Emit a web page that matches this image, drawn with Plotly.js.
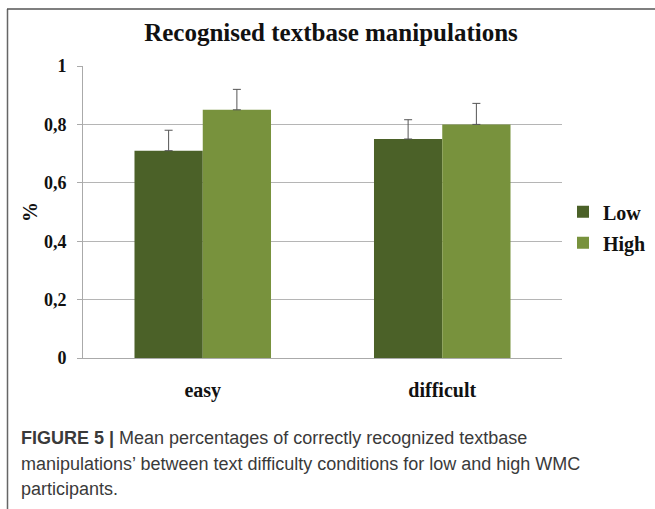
<!DOCTYPE html>
<html>
<head>
<meta charset="utf-8">
<script src="https://cdn.plot.ly/plotly-3.0.1.min.js"></script>
<style>
html,body{margin:0;padding:0;background:#fff;}
#chart{width:655px;height:509px;}
</style>
</head>
<body>
<div id="chart"></div>
<script>
var categories = ['easy', 'difficult'];
var categoryLabels = ['<b>easy</b>', '<b>difficult</b>'];
var lowValues = [0.71, 0.75];
var lowErrors = [0.07, 0.066];
var highValues = [0.85, 0.80];
var highErrors = [0.07, 0.072];
var yTicks = [0, 0.2, 0.4, 0.6, 0.8, 1];
var yTickLabels = ['<b>0</b>', '<b>0,2</b>', '<b>0,4</b>', '<b>0,6</b>', '<b>0,8</b>', '<b>1</b>'];
var seriesNames = ['<b>Low</b>', '<b>High</b>'];

var serif = 'Liberation Serif, Times New Roman, serif';
var sans = 'Liberation Sans, Arial, sans-serif';

var errStyle = {type: 'data', symmetric: false, arrayminus: [0, 0], color: '#555', thickness: 1, width: 4};

var traces = [
  {type: 'bar', name: seriesNames[0], x: categories, y: lowValues, legendgroup: 'a',
   marker: {color: '#4b6128'},
   error_y: Object.assign({array: lowErrors}, errStyle)},
  {type: 'bar', name: seriesNames[1], x: categories, y: highValues, legendgroup: 'b',
   marker: {color: '#78923d'},
   error_y: Object.assign({array: highErrors}, errStyle)}
];

// pixel helpers for paper coords
var L = 83, R = 562, T = 65.5, B = 358;
function px(x){ return (x - L) / (R - L); }
function py(y){ return (B - y) / (B - T); }

var layout = {
  width: 655, height: 509,
  margin: {l: L, r: 655 - R, t: T, b: 509 - B, pad: 0, autoexpand: false},
  paper_bgcolor: '#fff', plot_bgcolor: '#fff',
  separators: ', ',
  barmode: 'group', bargap: 0.43, bargroupgap: 0,
  showlegend: true,
  legend: {x: px(563), y: py(192), xanchor: 'left', yanchor: 'top',
           font: {family: serif, size: 20, color: '#111'},
           itemwidth: 30, tracegroupgap: 2, bgcolor: 'rgba(0,0,0,0)'},
  title: {text: '<b>Recognised textbase manipulations</b>',
          font: {family: serif, size: 25, color: '#111'},
          x: px(331), xref: 'paper', xanchor: 'center', y: 1 - 32/509, yanchor: 'middle'},
  xaxis: {type: 'category', showgrid: false, zeroline: false,
          showline: true, linecolor: '#aaa', linewidth: 1,
          tickvals: categories, ticktext: categoryLabels,
          ticks: '', tickfont: {family: serif, size: 20, color: '#111'},
          ticklabelstandoff: 14, fixedrange: true},
  yaxis: {range: [0, 1], tickvals: yTicks, ticktext: yTickLabels,
          showgrid: true, gridcolor: '#b5b5b5', gridwidth: 1,
          zeroline: false, showline: true, linecolor: '#aaa', linewidth: 1,
          ticks: 'outside', ticklen: 5, tickcolor: '#aaa',
          tickfont: {family: serif, size: 18, color: '#111'},
          ticklabelstandoff: 7,
          title: {text: '<b>%</b>', font: {family: serif, size: 20, color: '#111'}, standoff: 0},
          fixedrange: true},
  shapes: [
    {type: 'line', xref: 'paper', yref: 'paper', x0: px(7.5), x1: px(7.5), y0: py(8.5), y1: py(520),
     line: {color: '#666', width: 1.5}},
    {type: 'line', xref: 'paper', yref: 'paper', x0: px(7), x1: px(660), y0: py(8.5), y1: py(8.5),
     line: {color: '#555', width: 1.5}}
  ],
  annotations: [
    {xref: 'paper', yref: 'paper', x: px(19), y: py(438), xanchor: 'left', yanchor: 'middle',
     showarrow: false, align: 'left',
     text: '<b>FIGURE 5 |</b> Mean percentages of correctly recognized textbase',
     font: {family: sans, size: 18, color: '#3a3a3a'}},
    {xref: 'paper', yref: 'paper', x: px(19), y: py(464), xanchor: 'left', yanchor: 'middle',
     showarrow: false, align: 'left',
     text: 'manipulations\u2019 between text difficulty conditions for low and high WMC',
     font: {family: sans, size: 18, color: '#3a3a3a'}},
    {xref: 'paper', yref: 'paper', x: px(19), y: py(489), xanchor: 'left', yanchor: 'middle',
     showarrow: false, align: 'left',
     text: 'participants.',
     font: {family: sans, size: 18, color: '#3a3a3a'}}
  ]
};

Plotly.newPlot('chart', traces, layout, {displayModeBar: false, staticPlot: true});
</script>
</body>
</html>
